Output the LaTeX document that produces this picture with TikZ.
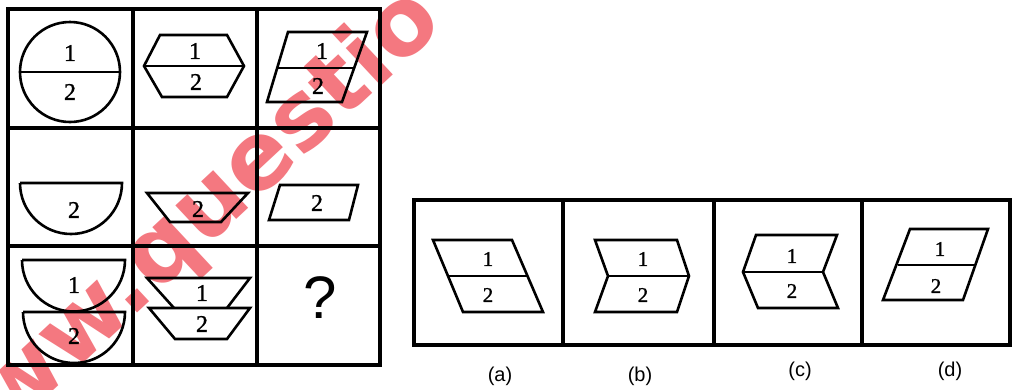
\documentclass[tikz,border=0pt]{standalone}
\usepackage{fontspec}
\setmainfont{Liberation Serif}
\newfontfamily\numfont{Liberation Serif}[FakeBold=1.2]
\newfontfamily\lblfont{Liberation Sans}
\newfontfamily\wmfont{DejaVu Sans}
\definecolor{wmred}{RGB}{244,120,128}
\tikzset{
  gridline/.style={line width=3.4pt, line cap=rect},
  shapeline/.style={line width=2.6pt, line join=miter},
  numlbl/.style={font=\numfont\fontsize{24}{24}\selectfont, inner sep=0pt},
  optnum/.style={font=\numfont\fontsize{21}{21}\selectfont, inner sep=0pt},
  optlbl/.style={font=\lblfont\fontsize{20}{20}\selectfont, inner sep=0pt},
  qmark/.style={font=\lblfont\fontsize{60}{60}\selectfont, inner sep=0pt},
  watermark/.style={font=\wmfont\bfseries\fontsize{94}{94}\selectfont, text=wmred, inner sep=0pt, rotate=43, anchor=base west},
}
\begin{document}
\begin{tikzpicture}[x=1pt,y=-1pt]
\useasboundingbox (0,0) rectangle (1020,389);
\fill[white] (0,0) rectangle (1020,389);

% ---------- watermark (behind the drawing) ----------
\begin{scope}
\clip (0,0) rectangle (1020,389);
\node[watermark] (wm) at (-56,493) {www.questio};
\end{scope}

% ---------- 3x3 grid ----------
\draw[gridline] (8,9) rectangle (380,365);
\draw[gridline] (133,9) -- (133,365) (257,9) -- (257,365);
\draw[gridline] (8,128) -- (380,128) (8,246) -- (380,246);

% row 1
\draw[shapeline] (70,72) circle[radius=50];
\draw[shapeline] (20,72) -- (120,72);
\node[numlbl] (c11a) at (70,53) {1};
\node[numlbl] (c11b) at (70,92) {2};

\draw[shapeline] (160,35) -- (227,35) -- (244,66) -- (227,97) -- (162,97) -- (144,66) -- cycle;
\draw[shapeline] (144,66) -- (244,66);
\node[numlbl] (c12a) at (195,51) {1};
\node[numlbl] (c12b) at (196,82) {2};

\draw[shapeline] (288,32) -- (367,32) -- (342,102) -- (267,102) -- cycle;
\draw[shapeline] (276.5,68) -- (355,68);
\node[numlbl] (c13a) at (322,51) {1};
\node[numlbl] (c13b) at (318,86) {2};

% row 2
\draw[shapeline] (20,183) -- (122,183) arc[start angle=0, end angle=180, radius=51];
\node[numlbl] (c21) at (74,210) {2};

\draw[shapeline] (147,193) -- (248,193) -- (221,222) -- (170,222) -- cycle;
\node[numlbl] (c22) at (198,209) {2};

\draw[shapeline] (280,185) -- (358,185) -- (349,220) -- (269,220) -- cycle;
\node[numlbl] (c23) at (317,203) {2};

% row 3
\draw[shapeline] (22,260) -- (125,260) arc[start angle=0, end angle=180, radius=51.5];
\node[numlbl] (c31a) at (74,285) {1};
\draw[shapeline] (23,312) -- (125,312) arc[start angle=0, end angle=180, radius=51];
\node[numlbl] (c31b) at (74,336) {2};

\draw[shapeline] (174,308) -- (147,278) -- (250,278) -- (227,308);
\draw[shapeline] (149,308) -- (250,308) -- (227,339) -- (175,339) -- cycle;
\node[numlbl] (c32a) at (202,293) {1};
\node[numlbl] (c32b) at (202,324) {2};

\node[qmark] (c33) at (320,298) {?};

% ---------- options ----------
\draw[gridline] (414,200) rectangle (1010,345);
\draw[gridline] (563,200) -- (563,345) (714,200) -- (714,345) (862,200) -- (862,345);

% (a)
\draw[shapeline] (433,240) -- (512,240) -- (543,312) -- (463,312) -- cycle;
\draw[shapeline] (448,276) -- (527.5,276);
\node[optnum] (a1) at (488,259) {1};
\node[optnum] (a2) at (488,295) {2};
\node[optlbl] (la) at (500,376) {(a)};

% (b)
\draw[shapeline] (595,240) -- (677,240) -- (689,276) -- (677,312) -- (595,312) -- (608,276) -- cycle;
\draw[shapeline] (608,276) -- (689,276);
\node[optnum] (b1) at (643,259) {1};
\node[optnum] (b2) at (643,295) {2};
\node[optlbl] (lb) at (640,376) {(b)};

% (c)
\draw[shapeline] (756,235) -- (837,235) -- (823,272) -- (838,308) -- (758,308) -- (743,272) -- cycle;
\draw[shapeline] (743,272) -- (823,272);
\node[optnum] (c1) at (792,256) {1};
\node[optnum] (c2) at (792,291) {2};
\node[optlbl] (lc) at (800,371) {(c)};

% (d)
\draw[shapeline] (910,229) -- (988,229) -- (963,300) -- (883,300) -- cycle;
\draw[shapeline] (897.5,265) -- (975.5,265);
\node[optnum] (d1) at (940,249) {1};
\node[optnum] (d2) at (936,286) {2};
\node[optlbl] (ld) at (950,371) {(d)};
\end{tikzpicture}
\end{document}
